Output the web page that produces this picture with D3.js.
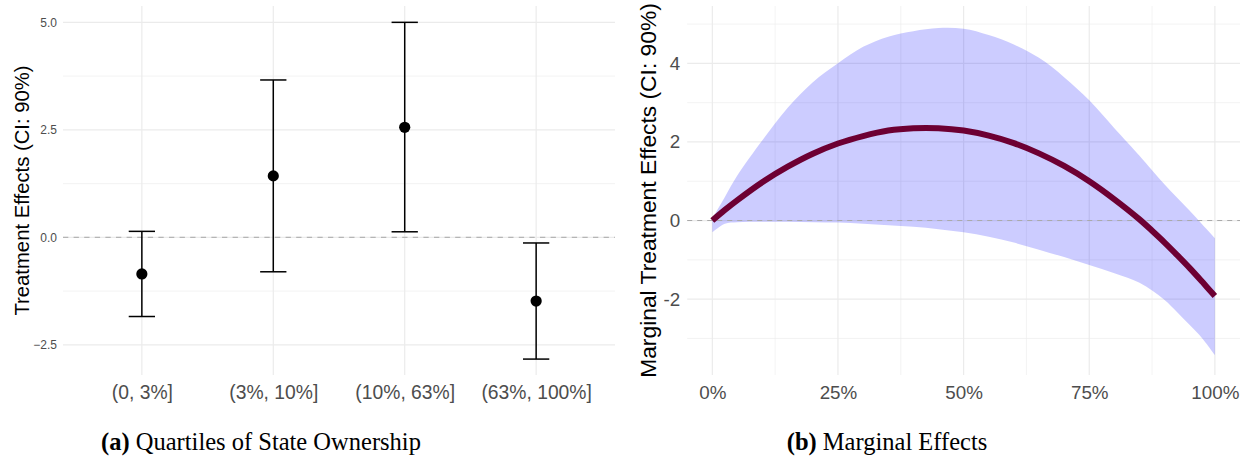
<!DOCTYPE html>
<html>
<head>
<meta charset="utf-8">
<script src="https://cdn.jsdelivr.net/npm/d3@7"></script>
<style>
  html, body { margin: 0; padding: 0; background: #fff; }
  svg { display: block; }
</style>
</head>
<body>
<svg id="chart" width="1248" height="461"></svg>
<script>
// ---------- Data: panel (a) ----------
const categories = ["(0, 3%]", "(3%, 10%]", "(10%, 63%]", "(63%, 100%]"];
const estimates  = [-0.85, 1.43, 2.56, -1.48];
const ciLower    = [-1.84, -0.80, 0.13, -2.83];
const ciUpper    = [0.14, 3.66, 5.00, -0.13];
const leftYTicks = [-2.5, 0, 2.5, 5];
const leftYMinor = [-1.25, 1.25, 3.75];

// ---------- Data: panel (b) ----------
const share      = [0, 0.025, 0.05, 0.10, 0.15, 0.20, 0.25, 0.30, 0.35, 0.40, 0.45, 0.50, 0.55, 0.60, 0.65, 0.70, 0.75, 0.80, 0.85, 0.875, 0.90, 0.925, 0.95, 0.975, 1.0];
const effect     = [0, 0.27, 0.52, 0.98, 1.37, 1.70, 1.96, 2.15, 2.29, 2.35, 2.35, 2.29, 2.16, 1.97, 1.71, 1.39, 1.00, 0.54, 0.03, -0.26, -0.56, -0.88, -1.21, -1.56, -1.92];
const bandUpper  = [0.05, 0.60, 1.15, 2.05, 2.87, 3.52, 4.00, 4.42, 4.68, 4.82, 4.90, 4.88, 4.72, 4.48, 4.14, 3.65, 3.06, 2.35, 1.65, 1.28, 0.92, 0.58, 0.25, -0.10, -0.45];
const bandLower  = [-0.30, -0.08, -0.04, -0.03, -0.03, -0.04, -0.05, -0.08, -0.12, -0.16, -0.22, -0.30, -0.41, -0.56, -0.74, -0.93, -1.13, -1.34, -1.58, -1.78, -2.02, -2.33, -2.66, -3.00, -3.42];
const rightYTicks = [-2, 0, 2, 4];
const rightYMinor = [-3, -1, 1, 3, 5];
const rightXTicks = [0, 0.25, 0.5, 0.75, 1.0];
const rightXMinor = [0.125, 0.375, 0.625, 0.875];

const svg = d3.select("#chart");
const gridColor = "#ebebeb";
const tickColor = "#4d4d4d";
const sans = "'Liberation Sans', Arial, Helvetica, sans-serif";
const serif = "'Liberation Serif', 'Times New Roman', serif";

// ================= Panel (a) =================
{
  const L = 63, R = 615, T = 6, B = 375;
  const x = d3.scalePoint().domain(categories).range([L, R]).padding(0.6);
  const step = x.step();
  const y = d3.scaleLinear().domain([-3.2, 5.38]).range([B, T]);
  const g = svg.append("g");

  g.selectAll(".ymin").data(leftYMinor).join("line")
    .attr("x1", L).attr("x2", R).attr("y1", d => y(d)).attr("y2", d => y(d))
    .attr("stroke", gridColor).attr("stroke-width", 0.6);
  g.selectAll(".ymaj").data(leftYTicks).join("line")
    .attr("x1", L).attr("x2", R).attr("y1", d => y(d)).attr("y2", d => y(d))
    .attr("stroke", gridColor).attr("stroke-width", 1.2);
  g.selectAll(".xmaj").data(categories).join("line")
    .attr("x1", d => x(d)).attr("x2", d => x(d)).attr("y1", T).attr("y2", B)
    .attr("stroke", gridColor).attr("stroke-width", 1.2);

  g.append("line").attr("x1", L).attr("x2", R).attr("y1", y(0)).attr("y2", y(0))
    .attr("stroke", "#b5b5b5").attr("stroke-width", 1.1).attr("stroke-dasharray", "5.3,5.3");

  const yAxis = d3.axisLeft(y).tickValues(leftYTicks).tickFormat(d3.format(".1f")).tickSize(0).tickPadding(6);
  const ya = g.append("g").attr("transform", `translate(${L},0)`).call(yAxis);
  ya.select(".domain").remove();
  ya.selectAll("text").attr("font-family", sans).attr("font-size", 12).attr("fill", tickColor);

  const xAxis = d3.axisBottom(x).tickSize(0).tickPadding(0);
  const xa = g.append("g").attr("transform", `translate(0,${B})`).call(xAxis);
  xa.select(".domain").remove();
  xa.selectAll("text").attr("dy", null).attr("y", 24).attr("font-family", sans)
    .attr("font-size", 19.3).attr("fill", tickColor);

  const hw = step * 0.1;
  categories.forEach((c, i) => {
    const cx = x(c);
    g.append("line").attr("x1", cx).attr("x2", cx).attr("y1", y(ciLower[i])).attr("y2", y(ciUpper[i]))
      .attr("stroke", "#000").attr("stroke-width", 1.5);
    [ciLower[i], ciUpper[i]].forEach(v => {
      g.append("line").attr("x1", cx - hw).attr("x2", cx + hw).attr("y1", y(v)).attr("y2", y(v))
        .attr("stroke", "#000").attr("stroke-width", 1.5);
    });
    g.append("circle").attr("cx", cx).attr("cy", y(estimates[i])).attr("r", 5.6).attr("fill", "#000");
  });

  g.append("text").attr("transform", `translate(22,${(T + B) / 2}) rotate(-90)`)
    .attr("text-anchor", "middle").attr("dominant-baseline", "central")
    .attr("font-family", sans).attr("font-size", 20.3).attr("fill", "#000")
    .text("Treatment Effects (CI: 90%)");

  const cap = g.append("text").attr("x", 261).attr("y", 450).attr("text-anchor", "middle")
    .attr("font-family", serif).attr("font-size", 24.5).attr("fill", "#000");
  cap.append("tspan").attr("font-weight", "bold").text("(a)");
  cap.append("tspan").text(" Quartiles of State Ownership");
}

// ================= Panel (b) =================
{
  const L = 687.2, R = 1240, T = 6, B = 375;
  const span = (R - L) / 1.1;
  const x = d3.scaleLinear().domain([0, 1]).range([L + 0.05 * span, R - 0.05 * span]);
  const y = d3.scaleLinear().domain([-3.93, 5.46]).range([B, T]);
  const g = svg.append("g");

  g.selectAll(".ymin").data(rightYMinor).join("line")
    .attr("x1", L).attr("x2", R).attr("y1", d => y(d)).attr("y2", d => y(d))
    .attr("stroke", gridColor).attr("stroke-width", 0.6);
  g.selectAll(".ymaj").data(rightYTicks).join("line")
    .attr("x1", L).attr("x2", R).attr("y1", d => y(d)).attr("y2", d => y(d))
    .attr("stroke", gridColor).attr("stroke-width", 1.2);
  g.selectAll(".xmin").data(rightXMinor).join("line")
    .attr("x1", d => x(d)).attr("x2", d => x(d)).attr("y1", T).attr("y2", B)
    .attr("stroke", gridColor).attr("stroke-width", 0.6);
  g.selectAll(".xmaj").data(rightXTicks).join("line")
    .attr("x1", d => x(d)).attr("x2", d => x(d)).attr("y1", T).attr("y2", B)
    .attr("stroke", gridColor).attr("stroke-width", 1.2);

  const pts = share.map((s, i) => ({ s, e: effect[i], lo: bandLower[i], hi: bandUpper[i] }));
  const area = d3.area().x(d => x(d.s)).y0(d => y(d.lo)).y1(d => y(d.hi)).curve(d3.curveCatmullRom.alpha(0.5));
  g.append("path").datum(pts).attr("d", area).attr("fill", "#0000ff").attr("fill-opacity", 0.2);

  g.append("line").attr("x1", L).attr("x2", R).attr("y1", y(0)).attr("y2", y(0))
    .attr("stroke", "#aaaaaa").attr("stroke-width", 1.1).attr("stroke-dasharray", "5,5");

  const line = d3.line().x(d => x(d.s)).y(d => y(d.e)).curve(d3.curveCatmullRom.alpha(0.5));
  g.append("path").datum(pts).attr("d", line).attr("fill", "none")
    .attr("stroke", "#6d0033").attr("stroke-width", 6);

  const yAxis = d3.axisLeft(y).tickValues(rightYTicks).tickFormat(d3.format("d")).tickSize(0).tickPadding(7);
  const ya = g.append("g").attr("transform", `translate(${L},0)`).call(yAxis);
  ya.select(".domain").remove();
  ya.selectAll("text").attr("font-family", sans).attr("font-size", 18.8).attr("fill", tickColor)
    .text(d => d < 0 ? "-" + Math.abs(d) : d);

  const xAxis = d3.axisBottom(x).tickValues(rightXTicks).tickFormat(d3.format(".0%")).tickSize(0).tickPadding(0);
  const xa = g.append("g").attr("transform", `translate(0,${B})`).call(xAxis);
  xa.select(".domain").remove();
  xa.selectAll("text").attr("dy", null).attr("y", 23.5).attr("font-family", sans)
    .attr("font-size", 18.8).attr("fill", tickColor);

  g.append("text").attr("transform", `translate(647.5,${(T + B) / 2}) rotate(-90)`)
    .attr("text-anchor", "middle").attr("dominant-baseline", "central")
    .attr("font-family", sans).attr("font-size", 22.8).attr("fill", "#000")
    .text("Marginal Treatment Effects (CI: 90%)");

  const cap = g.append("text").attr("x", 887).attr("y", 450).attr("text-anchor", "middle")
    .attr("font-family", serif).attr("font-size", 24.5).attr("fill", "#000");
  cap.append("tspan").attr("font-weight", "bold").text("(b)");
  cap.append("tspan").text(" Marginal Effects");
}
</script>
</body>
</html>
